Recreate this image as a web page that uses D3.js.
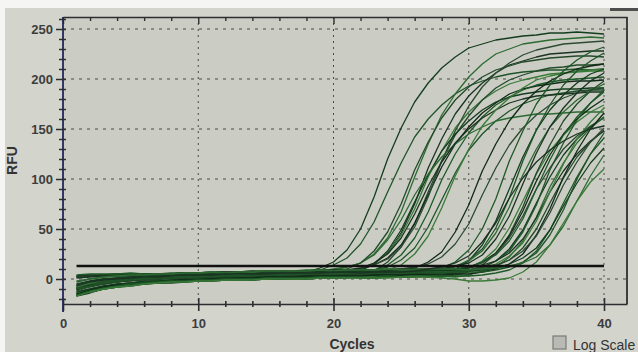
<!DOCTYPE html>
<html>
<head>
<meta charset="utf-8">
<script src="https://cdn.jsdelivr.net/npm/d3@7"></script>
<style>
  body { margin: 0; background: #f5f5f3; }
  svg { display: block; font-family: "Liberation Sans", Arial, sans-serif; }
</style>
</head>
<body>
<svg id="chart" width="638" height="352"></svg>
<script>
// cycles 1..40, RFU per well
const cycles = d3.range(1, 41);
const threshold = 13;
const thresholdCycles = [1, 40];
const xMajorTicks = [0, 10, 20, 30, 40];
const yMajorTicks = [0, 50, 100, 150, 200, 250];

// wells that come up around cycle 20-29
const earlyWells = [
  [-10,-6,-4,-2,-1,0,1,1,2,2,3,3,3,4,4,4,4,7,11,17,29,50,82,120,151,177,196,211,222,231,235,239,241,243,244,246,246,247,246,245],
  [-7,-3,-1,0,1,2,3,3,4,4,5,4,5,5,6,6,6,7,9,14,21,35,57,87,116,142,160,174,185,193,198,202,205,207,208,209,209,210,209,210],
  [3,4,4,5,5,5,5,5,5,6,6,6,7,7,7,7,8,8,8,9,12,16,25,41,67,102,135,164,185,202,215,225,230,235,237,239,240,241,242,241],
  [-15,-11,-8,-6,-5,-3,-2,-2,-1,0,0,1,1,1,2,2,2,3,3,3,5,9,15,26,46,75,111,140,165,183,196,206,214,218,222,225,226,227,228,228],
  [-9,-6,-3,-2,0,0,1,2,2,3,3,3,4,4,4,5,4,5,5,6,7,10,16,26,44,70,102,128,151,167,179,188,195,199,202,205,206,207,208,208],
  [-17,-13,-10,-8,-6,-5,-4,-3,-3,-2,-2,-1,-1,-1,0,0,0,0,1,1,2,5,8,17,32,55,87,118,144,163,179,191,199,204,208,211,212,214,214,215],
  [-6,-3,0,0,2,2,3,4,4,4,5,5,5,6,5,6,6,7,6,7,8,10,14,21,34,56,84,112,135,152,166,176,185,190,193,195,197,198,198,199],
  [2,3,4,4,5,5,5,5,6,6,6,7,6,7,7,8,7,8,8,8,9,10,14,20,32,52,82,118,148,173,192,206,216,224,229,232,235,236,237,238],
  [-14,-10,-8,-5,-4,-3,-2,-1,-1,0,1,1,1,2,2,2,3,3,3,3,4,5,9,14,24,41,67,99,125,146,162,174,182,189,194,197,199,200,201,202],
  [-16,-12,-10,-7,-6,-4,-4,-3,-2,-2,-1,-1,0,-1,0,0,1,0,1,2,4,8,15,28,49,77,104,128,145,158,169,177,182,185,187,189,190,190,191,191],
  [-11,-7,-5,-3,-1,-1,0,1,1,2,2,3,3,3,4,4,5,4,5,5,6,6,9,12,19,31,52,79,106,129,145,158,168,175,180,184,186,188,189,189],
  [3,3,4,4,5,5,5,5,6,6,6,7,7,7,8,7,8,8,8,10,12,16,24,39,59,84,105,122,135,145,152,158,161,163,165,165,166,167,167,167],
  [-8,-4,-2,0,1,1,2,3,3,4,4,4,5,5,5,6,6,5,6,6,9,11,16,25,41,65,93,117,136,150,161,169,176,180,183,184,185,186,187,187],
  [-13,-10,-7,-6,-4,-3,-2,-1,-1,0,0,1,2,1,2,2,3,3,3,4,3,4,6,9,14,25,43,71,103,130,153,169,181,191,199,203,206,208,209,210],
  [-10,-7,-4,-3,-1,0,0,1,2,3,2,3,4,4,4,5,4,5,5,7,10,16,28,47,75,109,137,161,179,192,202,209,213,217,219,221,222,223,223,222]
];

// wells that come up around cycle 30-36
const lateWells = [
  [-9,-6,-4,-2,-1,0,1,2,2,2,3,3,4,4,4,4,5,5,5,5,5,5,6,6,8,11,17,27,47,74,108,135,158,175,188,198,205,210,213,215],
  [2,3,4,4,4,5,5,5,6,5,6,7,6,7,7,8,7,8,8,9,8,8,9,9,10,12,15,22,35,55,84,111,134,151,164,174,181,186,189,191],
  [-15,-12,-8,-6,-4,-3,-2,-1,-1,0,0,1,1,2,2,2,3,2,3,3,4,3,4,4,4,5,6,11,17,29,50,80,118,148,175,194,208,219,227,232],
  [-17,-14,-10,-8,-7,-5,-4,-4,-3,-2,-2,-1,-1,0,0,0,0,1,1,1,2,1,1,2,2,2,3,6,10,18,34,58,90,122,149,169,184,196,205,210],
  [-10,-7,-4,-3,-1,0,1,1,2,3,3,3,3,4,4,5,4,5,5,5,6,5,6,6,6,7,6,8,12,19,30,51,81,118,149,174,194,208,218,226],
  [-7,-3,-1,1,1,2,3,3,4,4,4,5,5,5,6,6,6,6,7,7,7,7,7,8,7,8,8,10,13,18,28,46,72,104,130,152,167,179,188,195],
  [3,4,4,5,5,5,5,5,5,6,7,6,6,7,8,7,7,8,8,8,9,8,8,9,9,10,9,10,13,16,24,40,63,95,126,152,171,186,198,206],
  [-14,-11,-9,-6,-5,-4,-2,-2,-1,0,0,1,1,1,2,3,2,3,3,3,3,4,4,5,4,4,5,6,8,11,18,30,51,78,105,128,144,157,167,174],
  [-16,-13,-9,-7,-6,-5,-3,-3,-2,-2,-1,-1,0,-1,0,1,0,1,1,1,1,2,1,2,2,3,2,2,4,7,14,25,44,72,106,134,158,175,188,198],
  [-11,-6,-5,-2,-2,0,0,1,1,2,3,2,3,4,4,4,5,5,5,6,5,6,6,6,7,6,7,7,9,12,17,26,43,68,98,124,145,160,171,180],
  [-6,-2,0,1,2,3,3,4,4,5,4,5,6,5,6,6,7,6,7,7,8,7,7,8,7,8,8,8,10,12,16,25,41,63,90,111,130,143,153,161],
  [4,5,5,5,6,5,5,6,6,6,7,7,7,8,8,8,8,9,9,9,9,9,9,10,9,10,10,9,10,12,17,24,38,60,90,119,144,162,176,187],
  [-13,-10,-7,-5,-4,-2,-2,-1,0,0,1,1,2,2,2,3,3,3,4,3,4,4,4,5,4,5,5,5,6,8,11,18,30,49,76,102,124,140,152,162],
  [-9,-5,-3,-1,0,1,1,2,3,3,3,4,4,4,5,5,5,5,6,6,6,6,7,6,7,7,7,6,7,9,12,18,28,47,74,109,136,159,176,189],
  [-17,-12,-10,-8,-6,-4,-4,-3,-2,-2,-1,-1,-1,0,0,1,0,1,1,1,2,1,2,2,2,3,2,3,2,4,8,12,22,38,62,92,116,136,151,162],
  [1,2,3,3,4,4,4,5,6,6,6,7,7,7,7,8,8,8,8,9,8,8,9,9,10,9,9,10,9,11,14,18,26,40,61,87,108,125,138,148],
  [-8,-4,-1,0,2,2,3,3,4,4,5,5,5,6,5,6,6,7,6,7,7,7,8,7,8,8,8,8,8,9,11,15,23,36,58,87,115,140,157,171],
  [-12,-8,-5,-3,-1,-1,0,1,1,2,2,3,3,3,4,4,4,5,5,4,5,5,6,6,5,6,6,7,6,8,10,13,19,31,50,76,101,122,137,149],
  [-15,-11,-8,-6,-5,-4,-3,-2,-1,-1,0,0,1,1,2,2,2,3,3,3,3,3,4,4,4,5,4,4,5,5,7,10,15,25,44,70,102,128,150,166],
  [-3,0,2,3,3,4,5,5,6,6,6,7,7,8,7,8,8,8,9,8,9,9,9,9,10,9,10,10,10,9,12,14,19,28,43,66,94,117,137,151],
  [-16,-12,-9,-7,-5,-4,-3,-2,-2,-1,-1,0,0,0,1,1,1,1,2,2,2,2,2,3,2,3,3,3,3,3,4,6,9,16,28,49,76,102,125,141],
  [-5,-2,0,1,2,3,3,4,4,4,5,5,6,5,6,6,6,7,7,7,7,8,7,8,8,8,8,9,8,8,9,11,15,21,31,49,73,96,116,131],
  [-10,-7,-4,-2,-1,0,1,1,2,2,3,3,3,4,4,4,5,5,5,5,6,6,6,6,6,6,7,6,7,7,7,9,12,17,26,44,69,100,125,146],
  [-2,0,2,3,4,4,5,5,6,6,7,6,7,7,8,8,8,8,9,8,9,9,9,10,9,9,10,10,10,9,10,11,13,16,22,34,53,78,103,124],
  [-7,-3,-1,0,1,2,2,3,4,4,4,5,5,5,5,6,6,6,6,7,7,6,7,7,7,8,10,12,16,23,37,56,81,101,117,129,138,145,150,153],
  [-17,-13,-10,-8,-7,-5,-4,-3,-3,-2,-2,-1,-1,-1,0,0,0,0,1,1,1,1,1,1,2,2,2,1,0,-2,-2,-1,1,7,17,34,56,78,97,110]
];

const wellColors = ["#143d1f", "#1f5428", "#2c6a31", "#1b3322", "#3a7a38", "#24492b", "#102a17", "#2d4a33", "#1e5a27"];

const W = 638, H = 352;
const plot = { left: 63, right: 627, top: 17, bottom: 304 };

const svg = d3.select("#chart");

// backdrop (photo of a screen)
svg.append("rect").attr("width", W).attr("height", H).attr("fill", "#f5f5f3");
svg.append("rect").attr("x", 5).attr("y", 8).attr("width", W - 5).attr("height", H - 8).attr("fill", "#d3d4cc");
svg.append("rect").attr("x", 610).attr("y", 8).attr("width", 28).attr("height", 3).attr("fill", "#4e4e4e");
svg.append("rect")
  .attr("x", plot.left).attr("y", plot.top)
  .attr("width", plot.right - plot.left).attr("height", plot.bottom - plot.top)
  .attr("fill", "#cbcdc4");

const x = d3.scaleLinear().domain([0, 41.7]).range([plot.left, plot.right]);
const y = d3.scaleLinear().domain([-25, 262]).range([plot.bottom, plot.top]);

// dotted grid
const grid = svg.append("g").attr("class", "grid")
  .attr("stroke", "#4a4a48").attr("stroke-width", 1).attr("stroke-dasharray", "3,5");
grid.selectAll("line.h").data(yMajorTicks).join("line").attr("class", "h")
  .attr("x1", plot.left).attr("x2", plot.right)
  .attr("y1", d => y(d)).attr("y2", d => y(d));
grid.selectAll("line.v").data(xMajorTicks.filter(d => d > 0)).join("line").attr("class", "v")
  .attr("stroke-dasharray", "2,4")
  .attr("x1", d => x(d)).attr("x2", d => x(d))
  .attr("y1", plot.top).attr("y2", plot.bottom);

// amplification curves
const line = d3.line()
  .x((d, i) => x(cycles[i]))
  .y(d => y(d));

const wells = earlyWells.concat(lateWells);
svg.append("g").attr("class", "wells")
  .selectAll("path")
  .data(wells)
  .join("path")
    .attr("d", line)
    .attr("fill", "none")
    .attr("stroke", (d, i) => wellColors[i % wellColors.length])
    .attr("stroke-width", 1.3)
    .attr("stroke-linejoin", "round");

// threshold
svg.append("path")
  .datum(thresholdCycles)
  .attr("d", d3.line().x(d => x(d)).y(() => y(threshold)))
  .attr("stroke", "#111")
  .attr("stroke-width", 2.4);

// axes
const axisColor = "#2e2e30";
const labelColor = "#3d3d3d";

const xAxis = svg.append("g")
  .attr("transform", `translate(0,${plot.bottom})`)
  .call(d3.axisBottom(x).tickValues(d3.range(0, 41, 2))
    .tickFormat(d => d % 10 === 0 ? d : "").tickSizeOuter(0));
xAxis.select(".domain").attr("stroke", axisColor).attr("stroke-width", 1.6);
xAxis.selectAll(".tick line")
  .attr("stroke", axisColor).attr("stroke-width", 1.6)
  .attr("y1", d => d % 10 === 0 ? -6 : -3)
  .attr("y2", d => d % 10 === 0 ? 7 : 3);
xAxis.selectAll(".tick text")
  .attr("y", 15).attr("fill", labelColor)
  .attr("font-size", 13).attr("font-weight", "bold");

const topAxis = svg.append("g")
  .attr("transform", `translate(0,${plot.top})`)
  .call(d3.axisTop(x).tickValues(d3.range(0, 41, 2)).tickFormat("").tickSizeOuter(0));
topAxis.select(".domain").attr("stroke", axisColor).attr("stroke-width", 1.6);
topAxis.selectAll(".tick line")
  .attr("stroke", axisColor).attr("stroke-width", 1.4)
  .attr("y1", 0).attr("y2", d => d % 10 === 0 ? 7 : 4);

const yAxis = svg.append("g")
  .attr("transform", `translate(${plot.left},0)`)
  .call(d3.axisLeft(y).tickValues(d3.range(-20, 261, 10))
    .tickFormat(d => d % 50 === 0 ? d : "").tickSizeOuter(0));
yAxis.select(".domain").attr("stroke", "#22265a").attr("stroke-width", 1.8)
  .attr("d", `M0,${plot.top}V${plot.bottom + 8}`);
yAxis.selectAll(".tick line")
  .attr("stroke", axisColor).attr("stroke-width", 1.5)
  .attr("x1", d => d % 50 === 0 ? -7 : -4)
  .attr("x2", 3);
yAxis.selectAll(".tick text")
  .attr("x", -10).attr("fill", labelColor)
  .attr("font-size", 13).attr("font-weight", "bold");

// right border
svg.append("line")
  .attr("x1", plot.right).attr("x2", plot.right)
  .attr("y1", plot.top).attr("y2", plot.bottom)
  .attr("stroke", axisColor).attr("stroke-width", 1.8);

// titles
svg.append("text")
  .attr("transform", `translate(17,${(plot.top + plot.bottom) / 2}) rotate(-90)`)
  .attr("text-anchor", "middle")
  .attr("font-size", 14).attr("font-weight", "bold").attr("fill", "#333")
  .text("RFU");

svg.append("text")
  .attr("x", 352).attr("y", 349)
  .attr("text-anchor", "middle")
  .attr("font-size", 14).attr("font-weight", "bold").attr("fill", "#333")
  .text("Cycles");

// log scale checkbox
svg.append("rect")
  .attr("x", 553).attr("y", 336).attr("width", 13).attr("height", 13)
  .attr("fill", "#b9bab3").attr("stroke", "#7a7a78").attr("stroke-width", 1.2);
svg.append("text")
  .attr("x", 573).attr("y", 350)
  .attr("font-size", 14).attr("fill", "#333")
  .text("Log Scale");
</script>
</body>
</html>
